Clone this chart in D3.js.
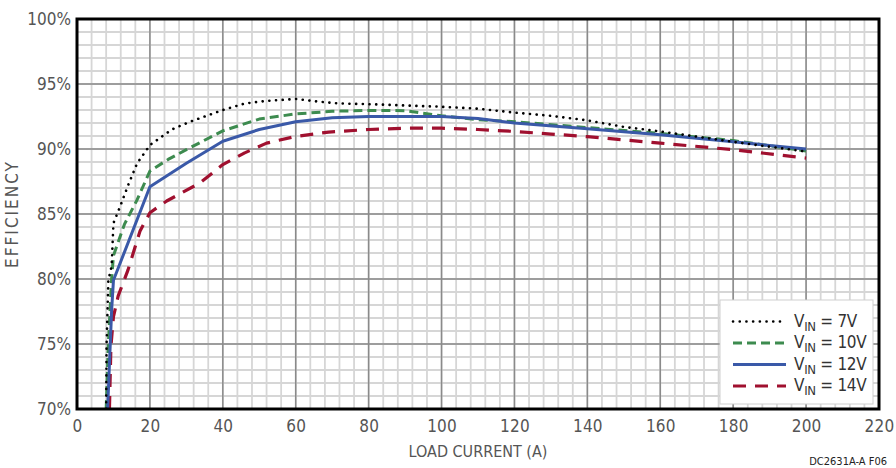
<!DOCTYPE html>
<html>
<head>
<meta charset="utf-8">
<script src="https://cdnjs.cloudflare.com/ajax/libs/d3/7.8.5/d3.min.js"></script>
<style>
  html, body { margin: 0; padding: 0; background: #fff; }
  svg { display: block; }
  text { font-family: "Liberation Sans Narrow", "DejaVu Sans Condensed", "Arial Narrow", sans-serif; }
</style>
</head>
<body>
<svg id="chart" width="896" height="468"></svg>
<script>
// ---------- data ----------
const seriesNames = ["VIN = 7V", "VIN = 10V", "VIN = 12V", "VIN = 14V"];
const legendValues = ["7V", "10V", "12V", "14V"];

const load7 = [8.0, 8.1, 8.6, 9.5, 10, 12, 14, 16.5, 20, 22, 26, 31, 40, 46, 52, 60, 66, 72, 80, 90, 100, 110, 120, 130, 140, 150, 160, 170, 180, 200];
const eff7  = [70, 74.8, 79.9, 81.0, 84.3, 85.7, 87.2, 88.9, 90.3, 90.7, 91.5, 92.1, 93.0, 93.5, 93.7, 93.85, 93.65, 93.5, 93.45, 93.35, 93.25, 93.1, 92.8, 92.55, 92.2, 91.7, 91.35, 90.95, 90.55, 89.8];

const load10 = [8.0, 8.6, 9.5, 10, 13, 16.5, 20, 25, 30, 40, 50, 60, 70, 80, 90, 100, 110, 120, 140, 160, 180, 200];
const eff10  = [70, 75, 80, 81.8, 84.2, 86.1, 88.3, 89.2, 89.95, 91.4, 92.3, 92.7, 92.9, 92.97, 92.95, 92.55, 92.25, 92.1, 91.65, 91.2, 90.65, 89.85];

const load12 = [8.4, 9.5, 10, 20, 30, 40, 50, 60, 70, 80, 90, 100, 110, 120, 140, 160, 180, 200];
const eff12  = [70, 77.6, 79.9, 87.1, 88.9, 90.6, 91.5, 92.1, 92.4, 92.5, 92.5, 92.5, 92.35, 92.0, 91.55, 91.1, 90.55, 90.0];

const load14 = [8.9, 9.3, 10, 11.3, 14, 17.3, 20, 24.6, 33.8, 40, 46, 52, 60, 69, 80, 90, 100, 110, 120, 130, 140, 160, 180, 200];
const eff14  = [70, 74.8, 77.1, 78.7, 80.7, 83.7, 85.1, 86.0, 87.4, 88.8, 89.7, 90.45, 90.97, 91.3, 91.5, 91.6, 91.6, 91.5, 91.35, 91.15, 90.95, 90.45, 89.95, 89.3];

const xTickValues = [0, 20, 40, 60, 80, 100, 120, 140, 160, 180, 200, 220];
const yTickValues = [70, 75, 80, 85, 90, 95, 100];
const yTickLabels = ["70%", "75%", "80%", "85%", "90%", "95%", "100%"];

// ---------- layout ----------
const svg = d3.select("#chart");
const L = 77, R = 879, T = 19, B = 409;
const x = d3.scaleLinear().domain([0, 220]).range([L, R]);
const y = d3.scaleLinear().domain([70, 100]).range([B, T]);

// grid
const grid = svg.append("g");
grid.selectAll(".vminor").data(d3.range(0, 221, 4)).join("line")
  .attr("x1", d => x(d)).attr("x2", d => x(d)).attr("y1", T).attr("y2", B)
  .attr("stroke", "#d6d6d6").attr("stroke-width", 1.8);
grid.selectAll(".hminor").data(d3.range(70, 101, 1)).join("line")
  .attr("y1", d => y(d)).attr("y2", d => y(d)).attr("x1", L).attr("x2", R)
  .attr("stroke", "#d6d6d6").attr("stroke-width", 1.8);
grid.selectAll(".vmajor").data(xTickValues).join("line")
  .attr("x1", d => x(d)).attr("x2", d => x(d)).attr("y1", T).attr("y2", B)
  .attr("stroke", "#8a8a8a").attr("stroke-width", 1.5);
grid.selectAll(".hmajor").data(yTickValues).join("line")
  .attr("y1", d => y(d)).attr("y2", d => y(d)).attr("x1", L).attr("x2", R)
  .attr("stroke", "#8a8a8a").attr("stroke-width", 1.5);

// clip
svg.append("defs").append("clipPath").attr("id", "clip")
  .append("rect").attr("x", L).attr("y", T).attr("width", R - L).attr("height", B - T);

const series = [
  { load: load14, eff: eff14, color: "#a0102f", width: 3.2, dash: "13,9", cap: "butt" },
  { load: load10, eff: eff10, color: "#3d8b4f", width: 3, dash: "9,5", cap: "butt" },
  { load: load12, eff: eff12, color: "#3a59a8", width: 3, dash: null, cap: "butt" },
  { load: load7,  eff: eff7,  color: "#000000", width: 2.6, dash: "0.1,6.6", cap: "round" }
];

const line = d3.line().x(d => x(d[0])).y(d => y(d[1]));
const lines = svg.append("g").attr("clip-path", "url(#clip)");
series.forEach(s => {
  lines.append("path")
    .datum(s.load.map((v, i) => [v, s.eff[i]]))
    .attr("d", line)
    .attr("fill", "none")
    .attr("stroke", s.color)
    .attr("stroke-width", s.width)
    .attr("stroke-dasharray", s.dash)
    .attr("stroke-linecap", s.cap)
    .attr("stroke-linejoin", "round");
});

// legend
const legendOrder = [3, 1, 2, 0];
const lg = svg.append("g");
lg.append("rect").attr("x", 720).attr("y", 300).attr("width", 153).attr("height", 104)
  .attr("fill", "#fff").attr("stroke", "#cfcfcf").attr("stroke-width", 1);
legendOrder.forEach((si, i) => {
  const s = series[si];
  const ly = 321.5 + i * 21.5;
  lg.append("line").attr("x1", 733).attr("x2", 786).attr("y1", ly).attr("y2", ly)
    .attr("stroke", s.color).attr("stroke-width", s.width)
    .attr("stroke-dasharray", s.dash).attr("stroke-linecap", s.cap);
  const t = lg.append("text").attr("x", 794).attr("y", ly + 5)
    .attr("font-size", 17).attr("fill", "#333").attr("letter-spacing", -0.3);
  t.append("tspan").text("V");
  t.append("tspan").attr("font-size", 13).attr("dy", 4).text("IN");
  t.append("tspan").attr("dy", -4).text(" = " + legendValues[i]);
});

// border
svg.append("rect").attr("x", L).attr("y", T).attr("width", R - L).attr("height", B - T)
  .attr("fill", "none").attr("stroke", "#000").attr("stroke-width", 3);

// axes
const fontStack = '"Liberation Sans Narrow", "DejaVu Sans Condensed", sans-serif';
const xAxis = d3.axisBottom(x).tickValues(xTickValues).tickSize(0).tickPadding(11).tickFormat(d3.format("d"));
const gx = svg.append("g").attr("transform", `translate(0,${B})`).call(xAxis);
gx.select(".domain").remove();
gx.selectAll("text").attr("font-size", 17).attr("fill", "#555").attr("letter-spacing", 0.2)
  .style("font-family", fontStack);

const yAxis = d3.axisLeft(y).tickValues(yTickValues).tickSize(0).tickPadding(6)
  .tickFormat((d, i) => yTickLabels[i]);
const gy = svg.append("g").attr("transform", `translate(${L},0)`).call(yAxis);
gy.select(".domain").remove();
gy.selectAll("text").attr("font-size", 17).attr("fill", "#555").attr("letter-spacing", 0)
  .style("font-family", fontStack);

// titles
svg.append("text").attr("x", (L + R) / 2).attr("y", 457).attr("text-anchor", "middle")
  .attr("font-size", 16).attr("fill", "#555").text("LOAD CURRENT (A)");
svg.append("text").attr("transform", `translate(18,${(T + B) / 2}) rotate(-90)`)
  .attr("text-anchor", "middle").attr("font-size", 17).attr("fill", "#555").attr("letter-spacing", 2)
  .text("EFFICIENCY");
svg.append("text").attr("x", 887).attr("y", 465).attr("text-anchor", "end")
  .attr("font-size", 11).attr("fill", "#222").text("DC2631A-A F06");
</script>
</body>
</html>
